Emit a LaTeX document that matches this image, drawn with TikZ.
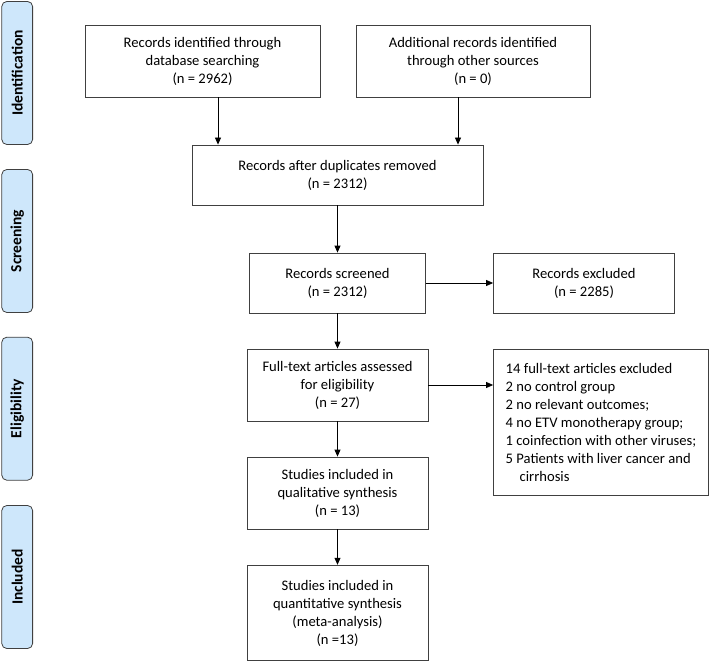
\documentclass[tikz,border=0pt]{standalone}
\usepackage{fontspec}
\setmainfont{Carlito}
\usepackage{tikz}
\usetikzlibrary{
	arrows.meta,
	calc,
	positioning
}
\definecolor{phaseblue}{RGB}{206,231,251}
\definecolor{edgegray}{RGB}{64,64,64}
\tikzset{every path/.append style={line width=0.8pt}}
\tikzset{
	box/.style={draw=edgegray,rectangle,align=center,inner sep=0pt,font=\fontsize{14.6}{18}\selectfont},
	phase/.style={draw=edgegray,fill=phaseblue,rounded corners=5pt,rotate=90,inner sep=0pt,
		minimum width=143pt,minimum height=30.8pt,font=\fontsize{15.5}{18}\selectfont\bfseries},
	arr/.style={-{Triangle[length=7pt,width=6pt]}}
}
\newcommand{\tikzBox}[5]{\node (#3) at #2 [box,minimum width=#4,minimum height=#5]{#1};}

\begin{document}
\begin{tikzpicture}[x=1pt,y=-1pt]
	\useasboundingbox (0,0) rectangle (709,663);

	\node (pIdent) at (17.2,73)  [phase] {Identification};
	\node (pScreen) at (17.2,241) [phase] {Screening};
	\node (pElig)  at (17.2,408.7) [phase] {Eligibility};
	\node (pIncl)  at (17.2,577) [phase] {Included};

	\tikzBox{Records identified through\\database searching\\(n = 2962)}{(202.5,61)}{db}{235pt}{72pt}
	\tikzBox{Additional records identified\\through other sources\\(n = 0)}{(473,61)}{other}{234pt}{72pt}
	\tikzBox{Records after duplicates removed\\(n = 2312)}{(337.5,175)}{dup}{291pt}{60pt}
	\tikzBox{Records screened\\(n = 2312)}{(337.5,283)}{screened}{176pt}{60pt}
	\tikzBox{Records excluded\\(n = 2285)}{(584,283)}{excl}{181pt}{60pt}
	\tikzBox{Full-text articles assessed\\for eligibility\\(n = 27)}{(337.5,385)}{fulltext}{181pt}{72pt}
	\tikzBox{Studies included in\\qualitative synthesis\\(n = 13)}{(337.5,493)}{qual}{181pt}{72pt}
	\tikzBox{Studies included in\\quantitative synthesis\\(meta-analysis)\\(n =13)}{(337.5,613)}{quant}{181pt}{95.6pt}

	\node (reasons) at (601,422) [box,minimum width=215pt,minimum height=146pt,align=left]
		{14 full-text articles excluded\\
		2 no control group\\
		2 no relevant outcomes;\\
		4 no ETV monotherapy group;\\
		1 coinfection with other viruses;\\
		5 Patients with liver cancer and\\
		\hspace*{14pt}cirrhosis};

	\draw[arr] ([xshift=15.5pt]db.south) -- ([xshift=15.5pt]db.south |- dup.north);
	\draw[arr] ([xshift=-15pt]other.south) -- ([xshift=-15pt]other.south |- dup.north);
	\draw[arr] (dup) -- (screened);
	\draw[arr] (screened) -- (excl);
	\draw[arr] (screened) -- (fulltext);
	\draw[arr] (fulltext.east) -- (fulltext.east -| reasons.west);
	\draw[arr] (fulltext) -- (qual);
	\draw[arr] (qual) -- (quant);
\end{tikzpicture}
\end{document}
